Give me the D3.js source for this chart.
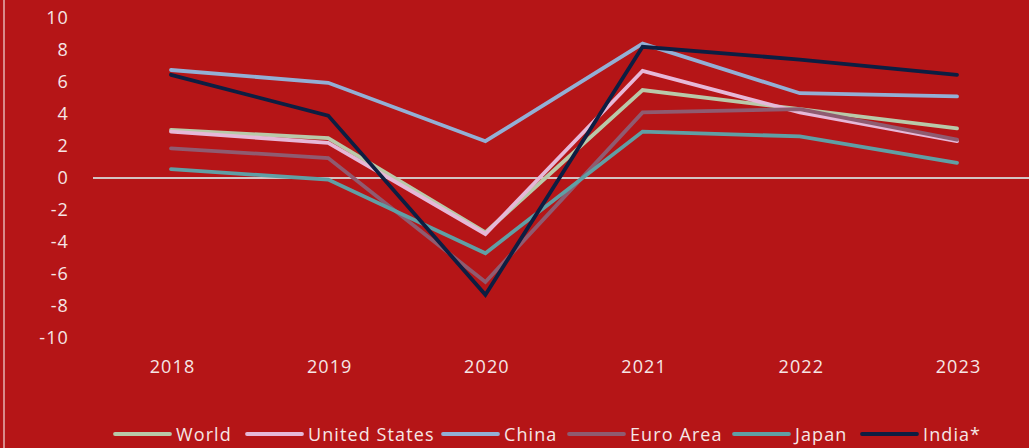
<!DOCTYPE html>
<html><head><meta charset="utf-8">
<script src="https://cdn.jsdelivr.net/npm/d3@7"></script>
<style>html,body{margin:0;padding:0;background:#b51517;}svg{display:block;}</style>
</head><body><div id="chart"></div>
<script>
const years = ["2018","2019","2020","2021","2022","2023"];
const yTicks = [10,8,6,4,2,0,-2,-4,-6,-8,-10];
const seriesNames = ["World","United States","China","Euro Area","Japan","India*"];
const seriesColors = ["#b9c9a9","#e6b8d8","#93afd5","#8f5b70","#609fa5","#0d1e42"];
const world = [3.0, 2.5, -3.4, 5.5, 4.3, 3.1];
const unitedStates = [2.9, 2.2, -3.5, 6.7, 4.1, 2.3];
const china = [6.75, 5.95, 2.3, 8.4, 5.3, 5.1];
const euroArea = [1.85, 1.25, -6.5, 4.1, 4.3, 2.4];
const japan = [0.55, -0.1, -4.7, 2.9, 2.6, 0.95];
const india = [6.45, 3.9, -7.3, 8.2, 7.4, 6.45];
const seriesValues = [world, unitedStates, china, euroArea, japan, india];

const W = 1029, H = 448;
const svg = d3.select("#chart").append("svg").attr("width", W).attr("height", H);
svg.append("rect").attr("width", W).attr("height", H).attr("fill", "#b51517");
svg.append("line").attr("x1",4).attr("x2",4).attr("y1",0).attr("y2",H)
  .attr("stroke","#d98a8a").attr("stroke-width",2);

const x = d3.scalePoint().domain(years).range([171, 957]);
const y = d3.scaleLinear().domain([-10, 10]).range([338, 18]);
const txt = "#f6e6e6";
const font = "'Open Sans', sans-serif";
const fs = "18px", ls = "1.1px";

// y axis labels
const yAxis = d3.axisLeft(y).tickValues(yTicks).tickSize(0).tickPadding(0)
  .tickFormat(d => d.toString());
const gy = svg.append("g").attr("transform","translate(69,0)").call(yAxis);
gy.select(".domain").remove();
gy.selectAll("text").attr("fill", txt).style("font-family", font)
  .style("font-size", fs).style("letter-spacing", ls);

// x axis labels
const xAxis = d3.axisBottom(x).tickSize(0).tickPadding(0);
const gx = svg.append("g").attr("transform","translate(1,360)").call(xAxis);
gx.select(".domain").remove();
gx.selectAll("text").attr("fill", txt).style("font-family", font)
  .style("font-size", fs).style("letter-spacing", ls);

// zero line
svg.append("line").attr("x1",93).attr("x2",W).attr("y1",y(0)).attr("y2",y(0))
  .attr("stroke","#d3c3c3").attr("stroke-width",2);

const line = d3.line().x((d,i) => x(years[i])).y(d => y(d));
seriesValues.forEach((vals, k) => {
  svg.append("path").datum(vals).attr("d", line).attr("fill","none")
    .attr("stroke", seriesColors[k]).attr("stroke-width", 3.8)
    .attr("stroke-linecap","round").attr("stroke-linejoin","miter");
});

// legend
const legendX = [115, 247, 443, 569, 734, 862];
const lg = svg.append("g");
seriesNames.forEach((n, k) => {
  lg.append("line").attr("x1", legendX[k]).attr("x2", legendX[k] + 55)
    .attr("y1", 434).attr("y2", 434).attr("stroke", seriesColors[k])
    .attr("stroke-width", 3.8).attr("stroke-linecap","round");
  lg.append("text").attr("x", legendX[k] + 61).attr("y", 440.5).text(n)
    .attr("fill", txt).style("font-family", font)
    .style("font-size", fs).style("letter-spacing", ls);
});
</script></body></html>
